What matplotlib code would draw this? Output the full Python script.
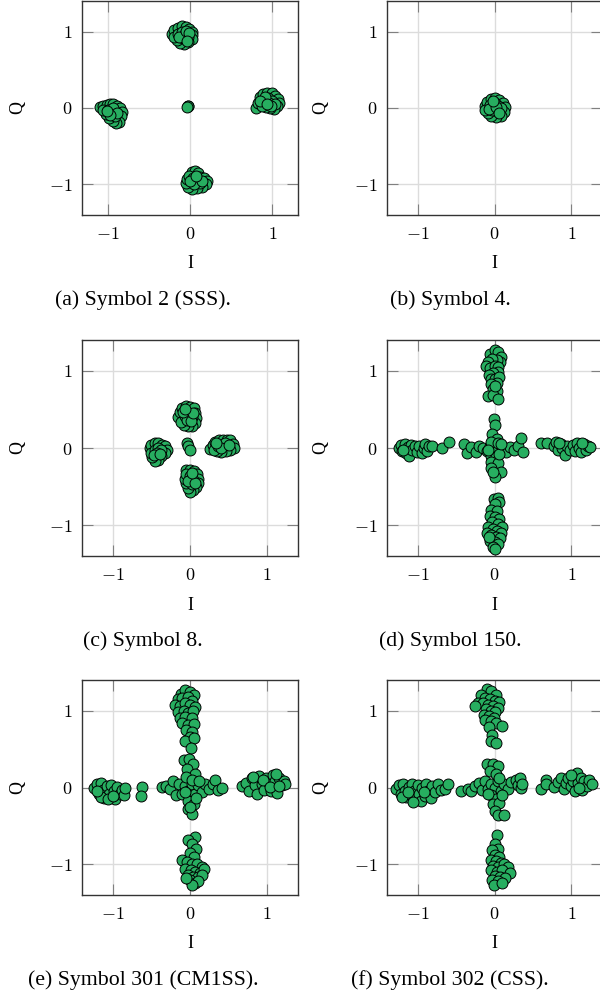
import numpy as np
import matplotlib
matplotlib.use("Agg")
import matplotlib.pyplot as plt

plt.rcParams['mathtext.fontset'] = 'cm'
plt.rcParams['font.family'] = ['Liberation Serif', 'DejaVu Serif']

# ---------------- data (I, Q) ----------------
sym2_points = [
    # top
    (-0.22, 0.97), (-0.19, 1.02), (-0.15, 1.05), (-0.10, 1.07), (-0.05, 1.06), (-0.01, 1.04),
    (0.02, 1.00), (0.03, 0.95), (0.02, 0.90), (-0.02, 0.86), (-0.07, 0.84), (-0.12, 0.85),
    (-0.16, 0.89), (-0.19, 0.93), (-0.14, 0.97), (-0.10, 1.00), (-0.06, 0.97), (-0.03, 0.93),
    (-0.09, 0.92), (-0.13, 0.93), (-0.05, 1.01), (-0.01, 0.98), (-0.04, 0.88),
    # right
    (0.80, 0.00), (0.82, 0.07), (0.85, 0.14), (0.89, 0.18), (0.94, 0.20), (0.99, 0.19),
    (1.03, 0.16), (1.07, 0.12), (1.08, 0.07), (1.06, 0.02), (1.02, -0.01), (0.97, 0.00),
    (0.92, 0.01), (0.87, 0.03), (0.90, 0.10), (0.95, 0.13), (1.00, 0.09), (0.96, 0.06),
    (0.91, 0.15), (1.03, 0.05), (0.85, 0.09), (0.98, 0.03), (0.93, 0.05),
    # left
    (-1.09, 0.01), (-1.05, 0.03), (-1.01, 0.04), (-0.97, 0.05), (-0.93, 0.05), (-0.89, 0.03),
    (-0.85, 0.00), (-0.82, -0.05), (-0.84, -0.11), (-0.86, -0.18), (-0.90, -0.19), (-0.94, -0.17),
    (-0.98, -0.13), (-1.02, -0.08), (-1.05, -0.03), (-0.99, -0.02), (-0.95, -0.06), (-0.91, -0.10),
    (-0.93, 0.00), (-0.88, -0.06), (-0.97, -0.09), (-1.01, -0.04),
    # bottom
    (0.02, -0.84), (0.06, -0.82), (0.10, -0.85), (0.12, -0.90), (0.17, -0.92), (0.21, -0.96),
    (0.19, -1.00), (0.14, -1.03), (0.09, -1.05), (0.03, -1.06), (-0.02, -1.03), (-0.05, -0.98),
    (-0.04, -0.93), (-0.01, -0.89), (0.04, -0.92), (0.08, -0.95), (0.12, -0.98), (0.05, -1.00),
    (0.00, -0.96), (0.15, -0.96), (0.07, -0.89),
    # centre
    (-0.03, 0.02), (-0.02, 0.03), (-0.04, 0.01),
]

sym4_points = [
    (-0.13, 0.02), (-0.10, 0.08), (-0.05, 0.12), (0.01, 0.13), (0.06, 0.11), (0.11, 0.07),
    (0.14, 0.01), (0.12, -0.05), (0.08, -0.10), (0.02, -0.12), (-0.04, -0.11), (-0.09, -0.07),
    (-0.12, -0.03), (-0.06, 0.04), (0.00, 0.06), (0.05, 0.03), (0.03, -0.04), (-0.03, -0.03),
    (0.08, 0.00), (-0.07, -0.01), (0.02, 0.01), (0.06, -0.06), (-0.02, 0.09),
]

sym8_points = [
    # top
    (-0.16, 0.40), (-0.13, 0.47), (-0.10, 0.52), (-0.05, 0.54), (0.00, 0.53), (0.05, 0.52),
    (0.07, 0.46), (0.08, 0.39), (0.06, 0.33), (0.02, 0.29), (-0.03, 0.28), (-0.08, 0.30),
    (-0.12, 0.34), (-0.07, 0.41), (-0.02, 0.45), (0.03, 0.40), (-0.04, 0.36), (0.01, 0.35),
    (-0.09, 0.47), (0.04, 0.46), (-0.06, 0.50),
    # left
    (-0.52, 0.00), (-0.50, 0.04), (-0.46, 0.06), (-0.41, 0.06), (-0.36, 0.04), (-0.32, 0.02),
    (-0.30, -0.02), (-0.33, -0.07), (-0.38, -0.11), (-0.42, -0.15), (-0.46, -0.17), (-0.49, -0.12),
    (-0.51, -0.06), (-0.46, -0.02), (-0.41, 0.00), (-0.37, -0.03), (-0.43, -0.07), (-0.47, -0.09),
    (-0.39, -0.08),
    # right
    (0.26, -0.01), (0.30, 0.04), (0.33, 0.08), (0.38, 0.10), (0.43, 0.10), (0.48, 0.11),
    (0.52, 0.10), (0.56, 0.05), (0.57, 0.00), (0.52, -0.02), (0.47, -0.04), (0.40, -0.05),
    (0.35, -0.04), (0.31, -0.02), (0.36, 0.03), (0.42, 0.04), (0.46, 0.06), (0.40, 0.00),
    (0.50, 0.04), (0.34, 0.06),
    # bottom
    (-0.05, -0.29), (0.00, -0.28), (0.05, -0.30), (0.09, -0.34), (0.11, -0.40), (0.10, -0.46),
    (0.08, -0.51), (0.04, -0.55), (0.00, -0.57), (-0.03, -0.52), (-0.05, -0.46), (-0.06, -0.40),
    (-0.05, -0.34), (0.00, -0.36), (0.04, -0.41), (0.02, -0.47), (-0.02, -0.43), (0.06, -0.46),
    (0.03, -0.33),
    # centre
    (-0.04, 0.06), (-0.03, 0.02), (0.00, -0.03),
]

sym150_points = [
    # top arm
    (-0.06, 1.22), (0.00, 1.27), (0.05, 1.24), (0.08, 1.18), (0.07, 1.12), (0.03, 1.14),
    (-0.03, 1.15), (-0.08, 1.11), (-0.11, 1.06), (-0.06, 1.04), (0.00, 1.06), (0.05, 1.05),
    (0.04, 0.98), (-0.02, 0.97), (-0.07, 0.95), (-0.05, 0.89), (0.01, 0.90), (0.06, 0.92),
    (0.03, 0.84), (-0.04, 0.83), (-0.02, 0.76), (0.03, 0.74), (-0.08, 0.67), (-0.02, 0.69),
    (0.04, 0.63), (0.00, 0.80),
    # bottom arm
    (-0.01, -0.66), (0.04, -0.65), (0.06, -0.70), (0.00, -0.73), (-0.04, -0.80), (0.03, -0.82),
    (-0.06, -0.88), (0.01, -0.90), (0.06, -0.92), (-0.03, -0.96), (0.05, -0.99), (0.10, -1.02),
    (-0.08, -1.03), (-0.02, -1.05), (0.03, -1.07), (0.09, -1.10), (-0.10, -1.10), (-0.04, -1.13),
    (0.02, -1.15), (0.07, -1.17), (-0.06, -1.20), (0.00, -1.22), (0.05, -1.24), (-0.02, -1.28),
    (0.01, -1.31), (-0.07, -1.15),
    # left arm
    (-1.24, 0.00), (-1.22, 0.04), (-1.20, -0.04), (-1.17, 0.05), (-1.15, -0.07), (-1.13, 0.01),
    (-1.11, -0.10), (-1.09, 0.04), (-1.07, -0.03), (-1.04, 0.03), (-1.01, -0.05), (-0.98, 0.02),
    (-0.95, -0.07), (-0.92, 0.00), (-0.90, 0.05), (-0.88, -0.04), (-0.85, 0.02), (-0.81, 0.03),
    (-0.69, 0.00), (-0.59, 0.08), (-1.19, -0.02),
    # right arm
    (0.60, 0.07), (0.68, 0.06), (0.78, 0.03), (0.80, 0.08), (0.83, -0.03), (0.86, 0.05),
    (0.88, 0.00), (0.92, -0.09), (0.95, 0.03), (0.98, -0.02), (1.02, 0.04), (1.05, -0.04),
    (1.08, 0.06), (1.10, 0.00), (1.13, -0.05), (1.16, 0.05), (1.19, -0.02), (1.22, 0.03),
    (1.25, 0.01), (0.84, 0.06), (1.14, 0.07),
    # centre cross
    (-0.40, 0.05), (-0.36, -0.06), (-0.30, 0.01), (-0.24, -0.05), (-0.20, 0.03), (-0.15, 0.00),
    (-0.10, -0.04), (-0.06, 0.03), (0.00, 0.00), (0.05, -0.03), (0.10, 0.02), (0.15, -0.05),
    (0.20, 0.01), (0.25, -0.03), (0.30, 0.02), (0.35, 0.13), (0.37, -0.05), (-0.01, 0.37),
    (0.01, 0.30), (-0.03, 0.18), (0.03, 0.12), (-0.05, 0.08), (0.04, 0.06), (-0.04, -0.10),
    (0.02, -0.12), (-0.05, -0.18), (0.04, -0.20), (-0.04, -0.26), (0.08, -0.31), (0.00, -0.38),
    (-0.02, -0.31), (0.06, -0.08), (-0.08, -0.02), (0.08, 0.05),
]

sym301_points = [
    # top arm
    (-0.12, 1.22), (-0.06, 1.27), (0.00, 1.25), (0.05, 1.21), (-0.16, 1.15), (-0.10, 1.16),
    (-0.03, 1.18), (0.03, 1.13), (-0.19, 1.08), (-0.13, 1.06), (-0.07, 1.10), (0.00, 1.07),
    (0.06, 1.05), (-0.15, 0.98), (-0.08, 1.00), (-0.02, 0.97), (0.04, 0.99), (-0.13, 0.90),
    (-0.06, 0.92), (0.02, 0.90), (-0.10, 0.84), (-0.03, 0.82), (0.05, 0.83), (-0.05, 0.75),
    (0.03, 0.72), (0.00, 0.66), (-0.06, 0.60), (0.05, 0.64), (0.01, 0.51),
    # bottom arm
    (0.06, -0.64), (-0.02, -0.68), (0.03, -0.74), (0.08, -0.80), (0.00, -0.85), (0.05, -0.90),
    (-0.11, -0.95), (-0.04, -0.97), (0.02, -0.99), (0.09, -1.00), (0.15, -1.04), (-0.06, -1.06),
    (0.01, -1.08), (0.07, -1.10), (0.13, -1.11), (0.18, -1.06), (-0.03, -1.14), (0.04, -1.17),
    (0.10, -1.16), (0.16, -1.14), (0.00, -1.21), (0.06, -1.24), (0.11, -1.22), (0.03, -1.27),
    (-0.05, -1.18),
    # left
    (-1.25, -0.01), (-1.21, 0.04), (-1.18, -0.08), (-1.15, 0.06), (-1.13, -0.03), (-1.11, -0.14),
    (-1.08, 0.02), (-1.05, -0.09), (-1.02, 0.03), (-0.99, -0.05), (-0.97, -0.15), (-0.94, 0.01),
    (-0.91, -0.09), (-0.88, -0.03), (-0.85, -0.10), (-0.84, -0.01), (-1.16, -0.12), (-1.06, -0.15),
    (-0.62, 0.01), (-0.64, -0.11), (-1.20, -0.05), (-1.00, -0.11),
    # right
    (0.67, 0.02), (0.72, 0.06), (0.76, -0.04), (0.80, 0.12), (0.84, 0.03), (0.87, -0.08),
    (0.90, 0.15), (0.93, 0.05), (0.96, -0.03), (0.99, 0.13), (1.02, 0.06), (1.05, -0.05),
    (1.07, 0.16), (1.10, 0.08), (1.13, -0.07), (1.16, 0.12), (1.19, 0.03), (1.22, 0.09),
    (1.23, 0.05), (0.82, 0.14), (1.12, 0.17), (0.94, 0.10), (1.04, 0.01), (1.15, 0.02),
    # centre cross
    (-0.36, 0.01), (-0.31, 0.02), (-0.26, -0.02), (-0.22, 0.08), (-0.18, -0.10), (-0.14, 0.05),
    (-0.10, -0.08), (-0.06, 0.02), (-0.02, -0.05), (0.02, 0.04), (0.06, -0.08), (0.10, 0.03),
    (0.15, -0.06), (0.20, 0.05), (0.25, -0.02), (0.30, 0.04), (0.33, 0.10), (0.36, -0.03),
    (0.41, 0.00), (-0.08, 0.36), (-0.01, 0.37), (0.04, 0.30), (-0.04, 0.24), (0.06, 0.18),
    (-0.05, 0.14), (0.02, 0.10), (-0.03, -0.18), (0.05, -0.22), (-0.02, -0.28), (0.03, -0.34),
    (0.00, -0.25), (0.08, -0.14), (-0.07, -0.06), (0.12, 0.08),
]

sym302_points = [
    # top arm
    (-0.10, 1.28), (-0.04, 1.26), (0.02, 1.21), (-0.18, 1.20), (-0.12, 1.17), (-0.06, 1.15),
    (0.00, 1.13), (0.06, 1.12), (-0.22, 1.10), (-0.15, 1.10), (-0.08, 1.08), (-0.02, 1.06),
    (0.04, 1.03), (-0.26, 1.06), (-0.11, 1.02), (-0.05, 1.00), (0.01, 0.98), (-0.14, 0.95),
    (-0.07, 0.93), (-0.01, 0.91), (-0.12, 0.88), (-0.04, 0.86), (0.02, 0.84), (0.10, 0.80),
    (-0.07, 0.79), (-0.03, 0.69), (-0.05, 0.61), (0.02, 0.58),
    # bottom arm
    (0.03, -0.62), (0.01, -0.73), (0.04, -0.80), (-0.03, -0.82), (0.00, -0.88), (0.06, -0.90),
    (-0.05, -0.94), (0.02, -0.96), (0.08, -0.98), (-0.02, -1.02), (0.05, -1.04), (0.12, -1.00),
    (0.17, -1.03), (-0.04, -1.08), (0.03, -1.10), (0.10, -1.08), (0.20, -1.11), (0.00, -1.15),
    (0.07, -1.16), (0.14, -1.18), (-0.03, -1.20), (0.05, -1.22), (-0.01, -1.27), (0.10, -1.24),
    # left
    (-1.28, -0.02), (-1.24, 0.03), (-1.22, -0.08), (-1.19, 0.05), (-1.17, -0.04), (-1.15, -0.13),
    (-1.12, 0.01), (-1.10, -0.09), (-1.08, 0.05), (-1.05, -0.04), (-1.03, -0.15), (-1.00, 0.03),
    (-0.98, -0.08), (-0.96, -0.17), (-0.94, 0.00), (-0.91, -0.11), (-0.89, 0.05), (-0.86, -0.05),
    (-0.83, -0.14), (-0.81, 0.02), (-0.78, -0.06), (-0.74, 0.04), (-0.70, -0.03), (-0.65, -0.02),
    (-0.60, 0.05), (-1.20, -0.13), (-1.06, -0.19), (-0.92, -0.06), (-1.13, -0.06),
    # right
    (0.60, -0.02), (0.67, 0.10), (0.67, 0.04), (0.78, 0.01), (0.83, 0.07), (0.87, 0.12),
    (0.90, -0.02), (0.93, 0.06), (0.96, 0.13), (0.99, 0.02), (1.02, 0.09), (1.05, -0.04),
    (1.07, 0.19), (1.09, 0.06), (1.12, 0.13), (1.14, -0.03), (1.17, 0.08), (1.20, 0.02),
    (1.23, 0.10), (1.27, 0.04), (1.10, 0.00), (1.00, 0.16),
    # centre cross
    (-0.43, -0.05), (-0.35, -0.02), (-0.30, -0.04), (-0.25, 0.02), (-0.20, 0.06), (-0.16, -0.03),
    (-0.12, 0.09), (-0.08, -0.02), (-0.05, 0.05), (0.00, 0.00), (0.04, 0.08), (0.08, -0.05),
    (0.12, 0.04), (0.17, -0.02), (0.22, 0.07), (0.28, 0.10), (0.30, 0.03), (0.35, -0.01),
    (0.33, 0.13), (0.36, 0.04), (-0.10, 0.30), (-0.02, 0.30), (0.04, 0.28), (-0.06, 0.22),
    (0.02, 0.18), (0.06, 0.12), (-0.04, -0.10), (0.02, -0.15), (-0.02, -0.22), (0.06, -0.20),
    (0.00, -0.30), (0.04, -0.36), (0.12, -0.36), (-0.08, -0.08), (0.10, -0.10),
]

captions = ["(a) Symbol 2 (SSS).", "(b) Symbol 4.", "(c) Symbol 8.",
            "(d) Symbol 150.", "(e) Symbol 301 (CM1SS).", "(f) Symbol 302 (CSS)."]
tick_values = [-1, 0, 1]
tick_labels = ["$-1$", "$0$", "$1$"]
x_limits = [1.31, 1.4, 1.4, 1.4, 1.4, 1.4]
y_limit = 1.4

panels = [sym2_points, sym4_points, sym8_points, sym150_points, sym301_points, sym302_points]

# ---------------- layout (pixels) ----------------
W, H = 600, 993
fig = plt.figure(figsize=(W / 100, H / 100), dpi=100)

col_lr = [(82, 298), (387, 602)]
row_tb = [(1, 215), (340, 556), (680, 895)]
caption_x = [143, 450]
ilabel_x = [190, 494.5]
qlabel_x = [18, 321]

face = '#27ae60'

for k, pts in enumerate(panels):
    r, c = divmod(k, 2)
    l, rr = col_lr[c]
    t, b = row_tb[r]
    ax = fig.add_axes([l / W, 1 - b / H, (rr - l) / W, (b - t) / H])
    arr = np.array(pts)
    ax.scatter(arr[:, 0], arr[:, 1], s=62, c=face, edgecolors='black',
               linewidths=0.7, zorder=3)
    ax.set_xlim(-x_limits[k], x_limits[k])
    ax.set_ylim(-y_limit, y_limit)
    ax.set_xticks(tick_values)
    ax.set_yticks(tick_values)
    ax.set_xticklabels(tick_labels)
    ax.set_yticklabels(tick_labels)
    ax.grid(True, color='#dcdcdc', linewidth=1.0, zorder=0)
    ax.set_axisbelow(True)
    ax.tick_params(direction='in', top=True, right=True, length=8, width=0.8,
                   color='#808080', labelsize=13, pad=8)
    ax.tick_params(axis='y', pad=7)
    for sp in ax.spines.values():
        sp.set_color('#333333')
        sp.set_linewidth(1.0)
    cy = (t + b) / 2
    fig.text(ilabel_x[c] / W, 1 - (b + 49) / H, "I", ha='center', va='center', fontsize=13)
    fig.text(qlabel_x[c] / W, 1 - cy / H, "Q", ha='center', va='center', fontsize=13, rotation=90)
    fig.text(caption_x[c] / W, 1 - (b + 85) / H, captions[k], ha='center', va='center', fontsize=15.7)

fig.savefig("out.png", dpi=100)
